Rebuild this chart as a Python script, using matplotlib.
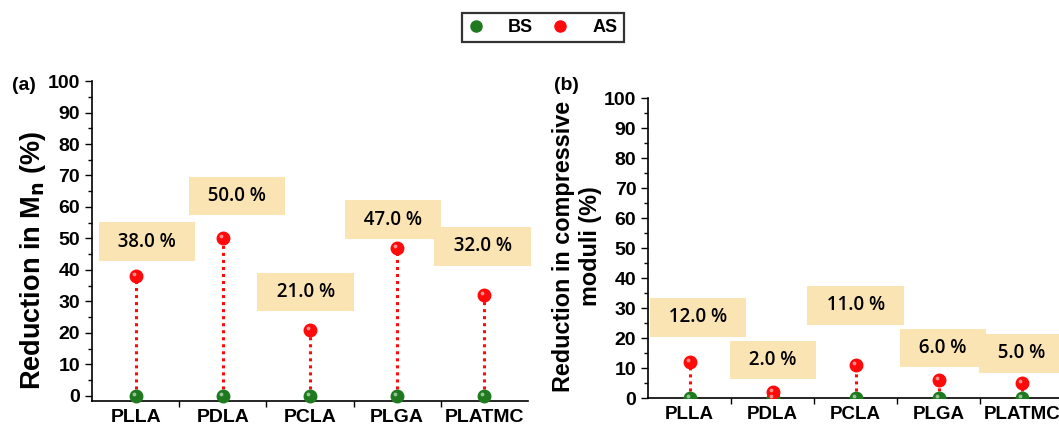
import matplotlib
matplotlib.use('Agg')
import matplotlib.pyplot as plt
import matplotlib.transforms as mtransforms
from matplotlib.lines import Line2D

plt.rcParams['font.family'] = ['Liberation Sans', 'DejaVu Sans']

# ----------------------------------------------------
# data
# ----------------------------------------------------
polymers = ['PLLA', 'PDLA', 'PCLA', 'PLGA', 'PLATMC']
mn_bs = [0, 0, 0, 0, 0]
mn_as = [38.0, 50.0, 21.0, 47.0, 32.0]
mod_bs = [0, 0, 0, 0, 0]
mod_as = [12.0, 2.0, 11.0, 6.0, 5.0]

# label box positions (layout only)
LBL_A = [(1.13, 49), (2.16, 63.5), (2.95, 33), (3.95, 56), (4.98, 47.5)]
LBL_B = [(1.1, 27), (2.0, 12.7), (3.0, 31), (4.05, 16.7), (5.0, 15)]

RED = '#ff0a0a'
GREEN = '#1f7a1f'
BOX = '#fbe4b4'


def _sphere(ax, x, y, color, ms=9, clip=True):
    ax.plot(x, y, 'o', color=color, ms=ms, mec=color, zorder=4, clip_on=clip)
    hl = mtransforms.offset_copy(ax.transData, fig=ax.figure, x=-1.5, y=1.5, units='points')
    ax.plot(x, y, 'o', color='white', alpha=0.55, ms=ms * 0.3, mew=0,
            transform=hl, zorder=5, clip_on=clip)


def _panel(ax, bs, after, lbl, ylabel, ylab_size, ylim, clip, xpad, xsize):
    x = list(range(1, len(polymers) + 1))
    for xi, v in zip(x, after):
        ax.plot([xi, xi], [0, v], ls=(0, (1, 1.3)), color=RED, lw=2.2, zorder=3)
    _sphere(ax, x, bs, GREEN, clip=clip)
    _sphere(ax, x, after, RED, clip=clip)
    for (lx, ly), v in zip(lbl, after):
        ax.text(lx, ly, f"  {v:.1f} %  ", ha='center', va='center', fontsize=13.5,
                family='Open Sans', fontweight='semibold', zorder=6,
                bbox=dict(boxstyle='square,pad=0.5', fc=BOX, ec='none'))
    ax.set_xlim(0.5, 5.5)
    ax.set_ylim(*ylim)
    ax.set_xticks(x)
    ax.set_xticklabels(polymers, fontsize=xsize, fontweight='bold')
    ax.set_xticks([1.5, 2.5, 3.5, 4.5], minor=True)
    ax.tick_params(axis='x', which='major', length=0, pad=xpad)
    ax.tick_params(axis='x', which='minor', length=4, width=1)
    ax.set_yticks(range(0, 101, 10))
    ax.set_yticks(range(5, 100, 10), minor=True)
    ax.tick_params(axis='y', which='major', length=5, width=1, labelsize=14)
    ax.tick_params(axis='y', which='minor', length=3, width=1)
    for t in ax.get_yticklabels():
        t.set_fontweight('bold')
    for s in ['top', 'right']:
        ax.spines[s].set_visible(False)
    for s in ['left', 'bottom']:
        ax.spines[s].set_linewidth(1.2)
    ax.set_ylabel(ylabel, fontsize=ylab_size, fontweight='bold')


fig = plt.figure(figsize=(10.59, 4.29), dpi=100)
ax1 = fig.add_axes([0.0869, 0.065, 0.4117, 0.746])
ax2 = fig.add_axes([0.612, 0.072, 0.392, 0.699])

_panel(ax1, mn_bs, mn_as, LBL_A, r'Reduction in M$_\mathbf{n}$ (%)', 19.5, (-1.7, 100), False, 6, 14)
_panel(ax2, mod_bs, mod_as, LBL_B, 'Reduction in compressive\nmoduli (%)', 16.8, (0, 100), True, 6, 13.5)
ax1.yaxis.set_label_coords(-0.1, 0.44)
ax2.yaxis.set_label_coords(-0.112, 0.507)

fig.text(0.011, 0.79, '(a)', fontsize=14, fontweight='bold')
fig.text(0.523, 0.79, '(b)', fontsize=14, fontweight='bold')

handles = [Line2D([], [], ls='none', marker='o', color=GREEN, ms=8, label='BS'),
           Line2D([], [], ls='none', marker='o', color=RED, ms=8, label='AS')]
leg = fig.legend(handles=handles, loc='center', bbox_to_anchor=(0.513, 0.936), ncol=2,
                 frameon=True, fancybox=False, edgecolor='black', handlelength=0.8,
                 handletextpad=1.4, columnspacing=1.1, borderpad=0.35,
                 prop=dict(weight='bold', size=13))
leg.get_frame().set_linewidth(1.6)

fig.savefig('out.png', dpi=100)
